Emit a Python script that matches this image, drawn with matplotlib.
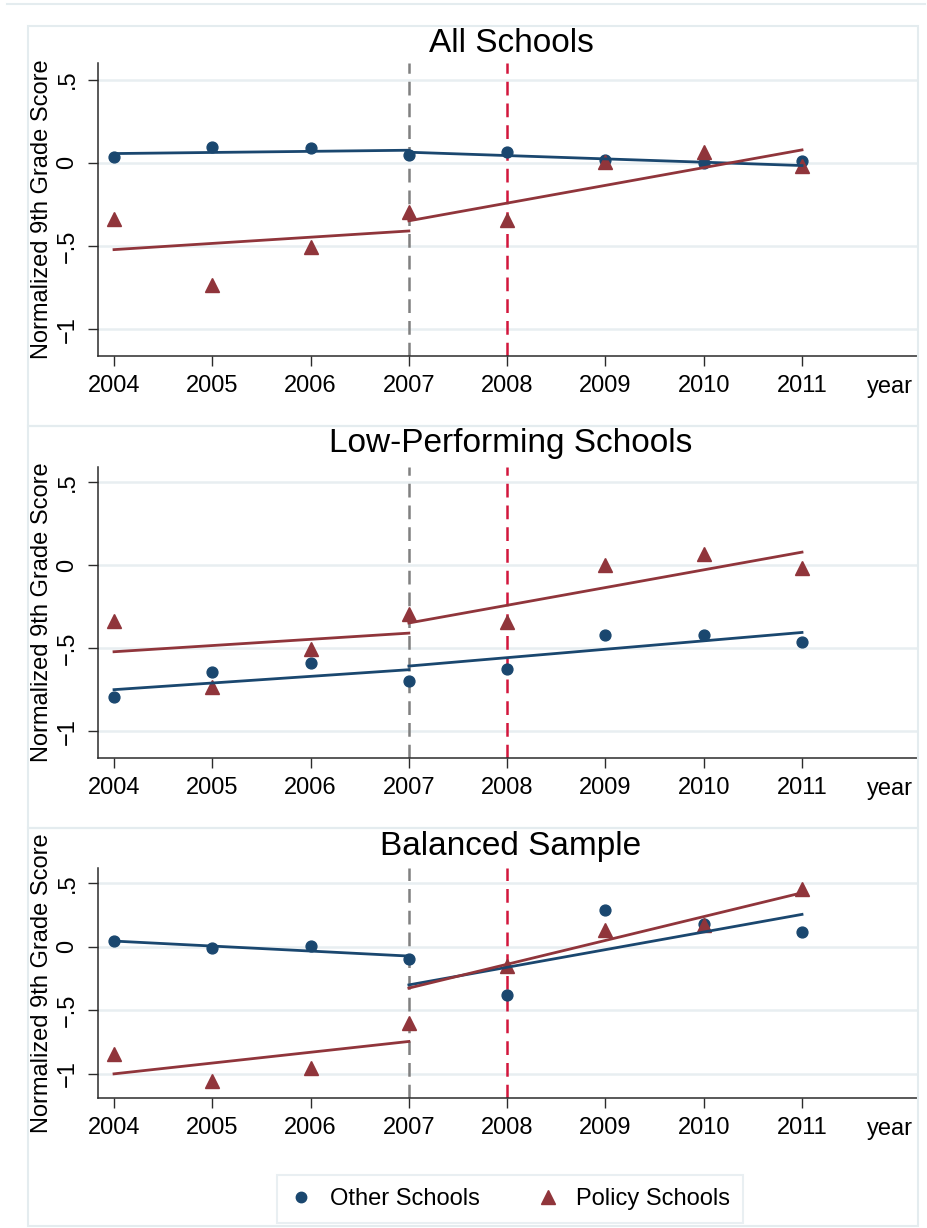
import matplotlib
matplotlib.use('Agg')
import matplotlib.pyplot as plt
from matplotlib.lines import Line2D
from matplotlib.patches import Rectangle

plt.rcParams['font.family'] = ['Liberation Sans', 'DejaVu Sans']

W, H = 927, 1228

years = [2004, 2005, 2006, 2007, 2008, 2009, 2010, 2011]
pre_years = [2004, 2007]
post_years = [2007, 2011]

titles = ['All Schools', 'Low-Performing Schools', 'Balanced Sample']

# mean normalized scores by year
other_all = [0.036, 0.096, 0.090, 0.050, 0.066, 0.020, 0.000, 0.010]
policy_all = [-0.338, -0.735, -0.505, -0.294, -0.345, 0.003, 0.068, -0.018]
other_low = [-0.794, -0.645, -0.589, -0.699, -0.625, -0.419, -0.419, -0.465]
policy_low = policy_all
other_bal = [0.045, -0.010, 0.010, -0.100, -0.378, 0.286, 0.180, 0.115]
policy_bal = [-0.843, -1.058, -0.953, -0.598, -0.155, 0.134, 0.168, 0.451]

# linear fit values at the segment ends (pre: 2004-2007, post: 2007-2011)
other_all_pre = [0.056, 0.076]
other_all_post = [0.064, -0.016]
policy_all_pre = [-0.521, -0.409]
policy_all_post = [-0.348, 0.078]
other_low_pre = [-0.749, -0.629]
other_low_post = [-0.607, -0.405]
policy_low_pre = policy_all_pre
policy_low_post = policy_all_post
other_bal_pre = [0.045, -0.073]
other_bal_post = [-0.300, 0.255]
policy_bal_pre = [-1.000, -0.745]
policy_bal_post = [-0.325, 0.425]

NAVY = '#1a476f'
MAROON = '#90353b'
GRID = '#e8eef1'
FRAME = '#e4ecef'
AXIS = '#2b2b2b'


def px_rect(left, right, top, bottom):
    return [left / W, 1 - bottom / H, (right - left) / W, (bottom - top) / H]


fig = plt.figure(figsize=(W / 100, H / 100), dpi=100)

# light frames around each sub-graph
fig.add_artist(Line2D([7 / W, 925 / W], [1 - 4 / H, 1 - 4 / H],
                      transform=fig.transFigure, color=FRAME, lw=1.5))
for top, bot in [(26, 426), (426, 828), (828, 1226)]:
    fig.add_artist(Rectangle((28 / W, 1 - bot / H), (918 - 28) / W, (bot - top) / H,
                             transform=fig.transFigure, fill=False,
                             edgecolor=FRAME, lw=1.5))

panels = [
    (other_all, policy_all, other_all_pre, other_all_post, policy_all_pre, policy_all_post,
     (63, 356), (-1.16, 0.60), 43),
    (other_low, policy_low, other_low_pre, other_low_post, policy_low_pre, policy_low_post,
     (467, 758), (-1.16, 0.59), 443),
    (other_bal, policy_bal, other_bal_pre, other_bal_post, policy_bal_pre, policy_bal_post,
     (868, 1098), (-1.19, 0.62), 846),
]

for i, (oth, pol, o_pre, o_post, p_pre, p_post, (top, bot), ylim, ty) in enumerate(panels):
    ax = fig.add_axes(px_rect(98, 917, top, bot))
    ax.set_xlim(2003.837, 2012.17)
    ax.set_ylim(*ylim)

    ax.set_xticks(years)
    ax.set_yticks([-1, -0.5, 0, 0.5])
    ax.set_yticklabels(['\u22121', '\u2212.5', '0', '.5'], rotation=90, va='center')
    ax.tick_params(direction='out', length=7, width=1.0, color=AXIS,
                   labelsize=17, pad=7)
    ax.grid(axis='y', color=GRID, lw=1.8)
    ax.set_axisbelow(True)
    for side in ['top', 'right']:
        ax.spines[side].set_visible(False)
    for side in ['left', 'bottom']:
        ax.spines[side].set_color(AXIS)
        ax.spines[side].set_linewidth(1.1)

    ax.axvline(2007, color='#808080', lw=1.8, ls=(0, (5.5, 3.2)), zorder=1.5)
    ax.axvline(2008, color='#d2163c', lw=1.8, ls=(0, (5.5, 3.2)), zorder=1.5)

    ax.plot(years, oth, 'o', ms=7.8, color=NAVY, zorder=3)
    ax.plot(years, pol, '^', ms=9.6, color=MAROON, zorder=3)
    ax.plot(pre_years, o_pre, color=NAVY, lw=2.0, zorder=4)
    ax.plot(post_years, o_post, color=NAVY, lw=2.0, zorder=4)
    ax.plot(pre_years, p_pre, color=MAROON, lw=2.0, zorder=4)
    ax.plot(post_years, p_post, color=MAROON, lw=2.0, zorder=4)

    ax.text(-56 / 819, 0.5, 'Normalized 9th Grade Score', rotation=90,
            transform=ax.transAxes, ha='center', va='center', fontsize=17)
    ax.annotate('year', xy=(2011.89, 0), xycoords=('data', 'axes fraction'),
                xytext=(0, -14.2), textcoords='offset points',
                ha='center', va='top', fontsize=17)
    fig.text(511 / W, 1 - ty / H, titles[i], ha='center', va='center', fontsize=24)

handles = [Line2D([], [], ls='none', marker='o', color=NAVY, ms=7.5),
           Line2D([], [], ls='none', marker='^', color=MAROON, ms=9.5)]
leg = fig.legend(handles, ['Other Schools', 'Policy Schools'], loc='center',
                 bbox_to_anchor=(510 / W, 1 - 1199 / H), ncol=2, frameon=True,
                 fancybox=False, edgecolor=FRAME, fontsize=17, handlelength=1,
                 handletextpad=0.7, columnspacing=2.4, borderpad=0.55)
leg.get_frame().set_linewidth(1.5)

fig.savefig('out.png', dpi=100)
